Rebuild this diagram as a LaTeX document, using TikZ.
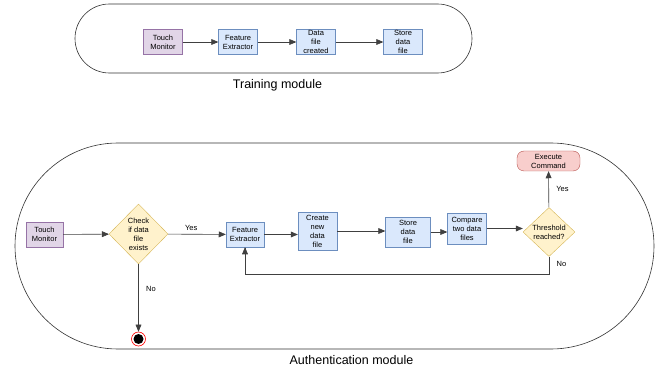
\documentclass[tikz,border=0pt]{standalone}
\usepackage{fontspec}
\setmainfont{Liberation Sans}
\usetikzlibrary{arrows,shapes}

\definecolor{purfill}{HTML}{E1D5E7}
\definecolor{purline}{HTML}{9673A6}
\definecolor{bluefill}{HTML}{DAE8FC}
\definecolor{blueline}{HTML}{6C8EBF}
\definecolor{yelfill}{HTML}{FFF2CC}
\definecolor{yelline}{HTML}{D6B656}
\definecolor{redfill}{HTML}{F8CECC}
\definecolor{redline}{HTML}{B85450}

\begin{document}
\begin{tikzpicture}[x=1pt,y=-1pt,
  box/.style={draw=blueline,fill=bluefill,minimum width=39pt,minimum height=25pt,inner sep=0.5pt,align=center,font=\fontsize{7.5}{9}\selectfont},
  touch/.style={box,draw=purline,fill=purfill},
  decision/.style={diamond,draw=yelline,fill=yelfill,aspect=1,inner sep=0pt,align=center,font=\fontsize{7.5}{9}\selectfont},
  flow/.style={-triangle 45,line width=0.6pt,draw=black!75},
  lbl/.style={font=\fontsize{7.5}{9}\selectfont},
  title/.style={font=\fontsize{12.5}{14}\selectfont}]
\useasboundingbox (0,0) rectangle (656,371);

% training module
\draw[black!80,line width=0.6pt,rounded corners=34.4pt] (75,4) rectangle (472,73);
\node[touch] (t1) at (163,42) {Touch\\Monitor};
\node[box] (t2) at (238,42) {Feature\\Extractor};
\node[box] (t3) at (316,42) {Data\\file\\created};
\node[box] (t4) at (403,42) {Store\\data\\file};
\draw[flow] (t1) -- (t2);
\draw[flow] (t2) -- (t3);
\draw[flow] (t3) -- (t4);
\node[title] (tlab) at (277.5,85) {Training module};

% authentication module
\draw[black!80,line width=0.6pt,rounded corners=102.9pt] (15,143) rectangle (654,349);
\node[touch,minimum width=37pt] (a1) at (44.5,234.5) {Touch\\Monitor};
\node[decision,minimum width=59pt,minimum height=60pt] (chk) at (138.5,234) {Check\\if data\\file\\exists};
\node[box,minimum width=38pt] (a2) at (245,234.5) {Feature\\Extractor};
\node[box,minimum height=38pt] (a3) at (317.5,231) {Create\\new\\data\\file};
\node[box,minimum width=45pt,minimum height=30pt] (a4) at (408,232) {Store\\data\\file};
\node[box,minimum height=31pt] (a5) at (467,228.5) {Compare\\two data\\files};
\node[decision,minimum width=52pt,minimum height=49pt] (thr) at (549,232) {Threshold\\reached?};
\node[draw=redline,fill=redfill,rounded corners=7pt,minimum width=63pt,minimum height=20pt,inner sep=0.5pt,align=center,font=\fontsize{7.5}{9}\selectfont] (exe) at (548.5,161) {Execute\\Command};
\node[circle,draw=red,line width=0.6pt,fill=white,minimum size=14pt,inner sep=0pt,
  path picture={\fill[black] (path picture bounding box.center) circle (5pt);}] (stop) at (138.5,339) {};

\draw[flow] (a1) -- (chk);
\draw[flow] (chk) -- node[lbl,above,pos=0.4] {Yes} (a2);
\draw[flow] (chk) -- node[lbl,right,pos=0.36,xshift=4pt] {No} (stop);
\draw[flow] (a2.east) -- (a2.east -| a3.west);
\draw[flow] (a3.east) -- (a3.east -| a4.west);
\draw[flow] (a4) -- (a4 -| a5.west);
\draw[flow] (a5) -- (a5 -| thr.west);
\draw[flow] (thr) -- node[lbl,right,xshift=4pt] {Yes} (exe);
\draw[flow] (thr.south) -- node[lbl,right,pos=0.4,xshift=4pt] {No} ++(0,18) -| (a2.south);
\node[title] (alab) at (351.5,360) {Authentication module};
\end{tikzpicture}
\end{document}
